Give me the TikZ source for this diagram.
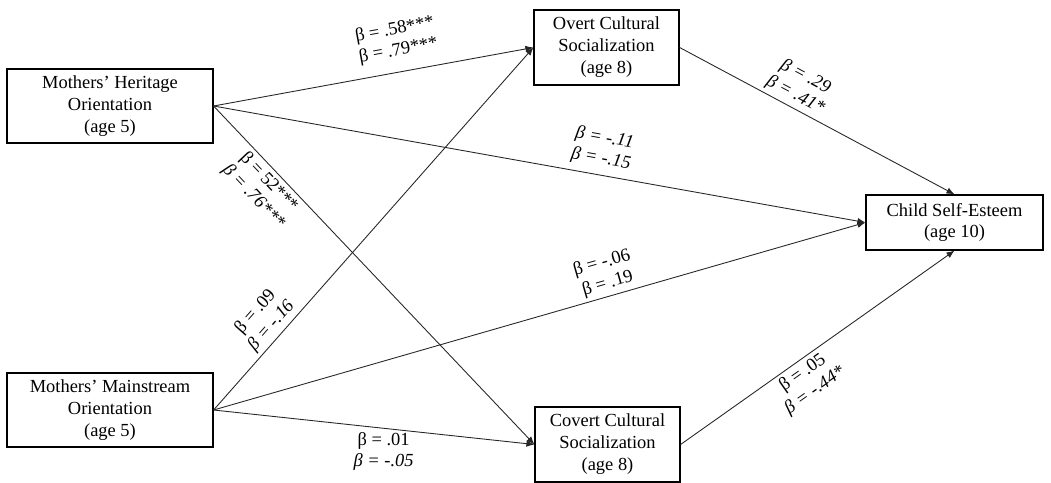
\documentclass[tikz,border=0pt]{standalone}
\usepackage{fontspec}
\setmainfont{Liberation Serif}
\usetikzlibrary{arrows.meta}

\begin{document}
\begin{tikzpicture}[
    x=0.02cm, y=-0.02cm,
    font=\fontsize{10.5}{12.5}\selectfont,
    measure/.style={rectangle, draw, line width=0.7pt, align=center, inner sep=0pt},
    path/.style={draw=black!85, line width=0.5pt, -{Latex[length=1.6mm, width=1.3mm]}},
    coef/.style={align=center, font=\fontsize{10.5}{12}\selectfont, inner sep=2pt}
]
\useasboundingbox (0,0) rectangle (1051,483);

% Mothers' Heritage Orientation
\node[measure, minimum width=4.12cm, minimum height=1.48cm] (heritage) at (110,106) {Mothers’ Heritage\\Orientation\\(age 5)};

% Mothers' Mainstream Orientation
\node[measure, minimum width=4.12cm, minimum height=1.48cm] (mainstream) at (110,410) {Mothers’ Mainstream\\Orientation\\(age 5)};

% Overt Cultural Socialization
\node[measure, minimum width=2.9cm, minimum height=1.5cm] (overt) at (606.5,47.5) {Overt Cultural\\Socialization\\(age 8)};

% Covert Cultural Socialization
\node[measure, minimum width=2.9cm, minimum height=1.5cm] (covert) at (607.5,444.5) {Covert Cultural\\Socialization\\(age 8)};

% Child Self-Esteem
\node[measure, minimum width=3.54cm, minimum height=1.1cm] (child) at (954.5,222.5) {Child Self-Esteem\\(age 10)};

% Paths from heritage orientation
\draw[path] (heritage.east) -- node[coef, sloped, above=5pt, pos=0.59] {β = .58***\\β = .79***} (overt.west);
\draw[path] (heritage.east) -- node[coef, sloped, above=2pt, pos=0.59] {\itshape β = -.11\\\itshape β = -.15} (child.west);
\draw[path] (heritage.east) -- node[coef, sloped, below, pos=0.2] {β = 52***\\\itshape β = .76***} (covert.west);

% Paths from mainstream orientation
\draw[path] (mainstream.east) -- node[coef, sloped, above, pos=0.21] {β = .09\\\itshape β = -.16} (overt.west);
\draw[path] (mainstream.east) -- node[coef, sloped, above, pos=0.61] {β = -.06\\β = .19} (child.west);
\draw[path] (mainstream.east) -- node[coef, below, pos=0.53] {β = .01\\\itshape β = -.05} (covert.west);

% Paths to self-esteem
\draw[path] (overt.east) -- node[coef, sloped, above, pos=0.4] {\itshape β = .29\\\itshape β = .41*} (child.north);
\draw[path] (covert.east) -- node[coef, sloped, below, pos=0.42] {β = .05\\\itshape β = -.44*} (child.south);

\end{tikzpicture}
\end{document}
